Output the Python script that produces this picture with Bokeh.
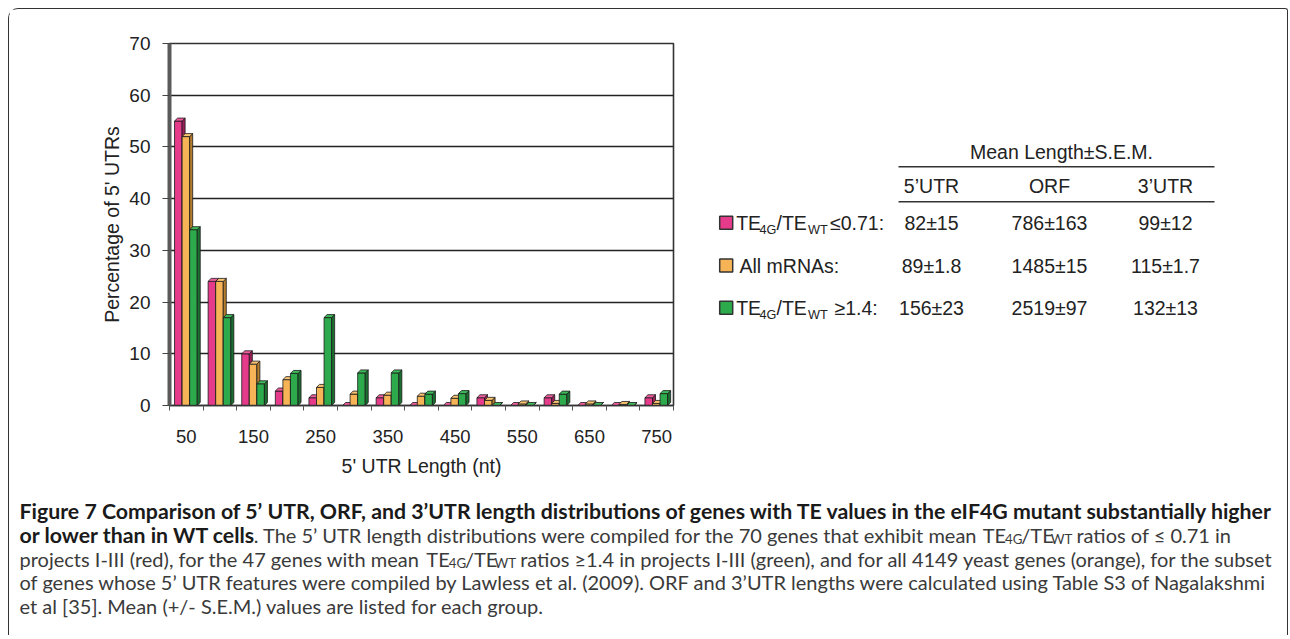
from bokeh.plotting import figure
from bokeh.layouts import column, row
from bokeh.models import Range1d, FixedTicker
from bokeh.core.properties import value
from bokeh.embed import file_html
from bokeh.resources import INLINE

# ---------------- data ----------------
categories = ["50", "100", "150", "200", "250", "300", "350", "400",
              "450", "500", "550", "600", "650", "700", "750"]
tick_labels = ["50", "150", "250", "350", "450", "550", "650", "750"]
pink_vals = [55, 24, 10, 2.8, 1.5, 0, 1.5, 0, 0, 1.5, 0, 1.5, 0, 0, 1.5]
orange_vals = [52, 24, 8, 5, 3.5, 2.2, 2, 1.8, 1.4, 1.0, 0.3, 0.4, 0.3, 0.2, 0.4]
green_vals = [34, 17, 4.2, 6.2, 17, 6.3, 6.3, 2.2, 2.3, 0, 0, 2.2, 0, 0, 2.3]
y_ticks = [0, 10, 20, 30, 40, 50, 60, 70]

table_title = "Mean Length±S.E.M."
table_cols = ["5’UTR", "ORF", "3’UTR"]
col_5utr = ["82±15", "89±1.8", "156±23"]
col_orf = ["786±163", "1485±15", "2519±97"]
col_3utr = ["99±12", "115±1.7", "132±13"]

FONT = "Liberation Sans"
CAP = "Lato"

PINK, PINK_S, PINK_T = "#E63A8B", "#9C1E58", "#EE5C9E"
ORNG, ORNG_S, ORNG_T = "#F6B457", "#B47C2C", "#F8C270"
GREN, GREN_S, GREN_T = "#2DAA4B", "#1A6E2F", "#3DBA5A"

# page geometry
X0, Y0 = 10, 10            # page position of first child
CONTENT_W = 1278
W_A, H_A = 674, 470
MB_TOP, MB_BOT = 34, 74    # frame of the chart row: page y 44 .. 406

# ---------------- bar chart ----------------
n = len(categories)
pA = figure(width=W_A, height=H_A, x_range=Range1d(0, n), y_range=Range1d(0, 70),
            output_backend="svg", toolbar_location=None,
            min_border_left=160, min_border_top=MB_TOP, min_border_bottom=MB_BOT,
            min_border_right=10, background_fill_color="white",
            border_fill_color="white")
pA.outline_line_color = "#333333"
pA.outline_line_width = 1.6

centers = [i + 0.5 for i in range(n)]
label_pos = [centers[categories.index(t)] for t in tick_labels]
pA.xaxis.ticker = FixedTicker(ticks=label_pos, minor_ticks=list(range(n + 1)))
pA.xaxis.major_label_overrides = {pos: t for pos, t in zip(label_pos, tick_labels)}
pA.xaxis.major_tick_out = 0
pA.xaxis.major_tick_in = 0
pA.xaxis.minor_tick_out = 5
pA.xaxis.minor_tick_in = 0
pA.xaxis.minor_tick_line_color = "#555555"
pA.xaxis.axis_line_color = "#333333"
pA.xaxis.axis_line_width = 1.6
pA.xaxis.major_label_standoff = 19
pA.xaxis.major_label_text_font = FONT
pA.xaxis.major_label_text_font_size = "18.5px"
pA.xaxis.major_label_text_color = "#222222"
pA.xaxis.axis_label = "5' UTR Length (nt)"
pA.xaxis.axis_label_standoff = 9
pA.xaxis.axis_label_text_font = FONT
pA.xaxis.axis_label_text_font_size = "19.5px"
pA.xaxis.axis_label_text_font_style = "normal"
pA.xaxis.axis_label_text_color = "#222222"

pA.yaxis.ticker = FixedTicker(ticks=y_ticks, minor_ticks=[])
pA.yaxis.major_tick_out = 7
pA.yaxis.major_tick_in = 0
pA.yaxis.major_tick_line_color = "#444444"
pA.yaxis.axis_line_color = "#5a5a5a"
pA.yaxis.axis_line_width = 4
pA.yaxis.major_label_standoff = 12
pA.yaxis.major_label_text_font = FONT
pA.yaxis.major_label_text_font_size = "19px"
pA.yaxis.major_label_text_color = "#222222"
pA.yaxis.axis_label = "Percentage of 5' UTRs"
pA.yaxis.axis_label_standoff = 3
pA.yaxis.axis_label_text_font = FONT
pA.yaxis.axis_label_text_font_size = "19.5px"
pA.yaxis.axis_label_text_font_style = "normal"
pA.yaxis.axis_label_text_color = "#222222"

pA.xgrid.grid_line_color = None
pA.ygrid.ticker = FixedTicker(ticks=y_ticks)
pA.ygrid.grid_line_color = "#222222"
pA.ygrid.grid_line_width = 1.3

BW, OFF, DX, DY = 0.225, 0.15, 0.09, 0.58
series = [(pink_vals, PINK, PINK_S, PINK_T),
          (orange_vals, ORNG, ORNG_S, ORNG_T),
          (green_vals, GREN, GREN_S, GREN_T)]
for s, (vals, fc, sc, tc) in enumerate(series):
    lefts = [i + OFF + s * BW for i in range(n)]
    rights = [l + BW for l in lefts]
    pA.quad(left=lefts, right=rights, bottom=0, top=vals, fill_color=fc,
            line_color="#1a1a1a", line_width=0.8)
    pA.patches(xs=[[r, r + DX, r + DX, r] for r in rights],
               ys=[[0, DY, v + DY, v] for v in vals],
               fill_color=sc, line_color="#1a1a1a", line_width=0.8)
    pA.patches(xs=[[l, l + DX, r + DX, r] for l, r in zip(lefts, rights)],
               ys=[[v, v + DY, v + DY, v] for v in vals],
               fill_color=tc, line_color="#1a1a1a", line_width=0.8)


# ---------------- helpers: canvases in page pixel coordinates ----------------
def canvas(w, h, x_left, y_top, mb_top=0, mb_bot=0):
    f = figure(width=w, height=h,
               x_range=Range1d(x_left, x_left + w),
               y_range=Range1d(y_top + h - mb_bot, y_top + mb_top),
               output_backend="svg", toolbar_location=None,
               min_border_left=0, min_border_right=0,
               min_border_top=mb_top, min_border_bottom=mb_bot,
               x_axis_type=None, y_axis_type=None, outline_line_color=None,
               background_fill_color="white", border_fill_color="white")
    f.grid.visible = False
    return f


def put(f, xs, ys, texts, size, style="normal", align="left",
        color="#222222", font=FONT):
    f.text(x=xs, y=ys, text=texts,
           text_font=value(font), text_font_size=size, text_font_style=style,
           text_align=align, text_baseline="middle", text_color=color)


# ---------------- table ----------------
W_B = CONTENT_W - W_A
pB = canvas(W_B, H_A, X0 + W_A, Y0, MB_TOP, MB_BOT)
TS = "19.5px"
SS = "12.7px"
put(pB, [1062], [152.7], [table_title], TS, align="center")
pB.segment(x0=[899, 899], y0=[167.3, 202.3], x1=[1215, 1215], y1=[167.3, 202.3],
           line_color="#333333", line_width=1.6)
col_x = [932, 1050, 1166]
put(pB, col_x, [186.7] * 3, table_cols, TS, align="center")
row_y = [223.3, 266, 308.3]
for cx, vals in zip(col_x, [col_5utr, col_orf, col_3utr]):
    put(pB, [cx] * 3, row_y, vals, TS, align="center")
# legend keys
pB.rect(x=[726.7] * 3, y=row_y, width=13, height=13,
        fill_color=[PINK, ORNG, GREN], line_color="#333333", line_width=1.5)
# row labels with subscripts
for ry, tail, tx in [(row_y[0], "≤0.71:", 830.5), (row_y[2], "≥1.4:", 835)]:
    put(pB, [736.7, 777], [ry, ry], ["TE", "/TE"], TS)
    put(pB, [760, 808.5], [ry + 7, ry + 7], ["4G", "WT"], SS)
    put(pB, [tx], [ry], [tail], TS)
put(pB, [740], [row_y[1]], ["All mRNAs:"], TS)

# ---------------- caption ----------------
H_C = 156
pC = canvas(CONTENT_W, H_C, X0, Y0 + H_A)
BSZ, RSZ, SSZ = 21.3, 20.0, 13.3
BC = "#1a1a1a"
RC = "#3a3a3a"
L = [511, 535, 559, 582.5, 606]
SP = 0.193 * RSZ + 1


def seg(x, y, text, size, style="normal", dy=0.0, color=RC):
    put(pC, [x], [y + dy], [text], "%.1fpx" % size, style=style,
        color=color, font=CAP)


def te_group(x, y):
    # "TE" sub "4G" "/TE" sub "WT"; returns x after the group
    seg(x, y, "TE", RSZ)
    x += 1.12 * RSZ
    seg(x, y, "4G", SSZ, dy=4.5)
    x += 1.22 * SSZ
    seg(x, y, "/TE", RSZ)
    x += 1.47 * RSZ
    seg(x, y, "WT", SSZ, dy=4.5)
    x += 1.57 * SSZ
    return x


seg(20, L[0], "Figure 7 Comparison of 5’ UTR, ORF, and 3’UTR length distributions of genes with TE values in the eIF4G mutant substantially higher",
    BSZ, style="bold", color=BC)
# line 2
seg(20, L[1], "or lower than in WT cells", BSZ, style="bold", color=BC)
x = 20 + 11.0 * BSZ
seg(x, L[1], ". The 5’ UTR length distributions were compiled for the 70 genes that exhibit mean", RSZ)
x += 36.2 * RSZ + SP
x = te_group(x, L[1]) + SP
seg(x, L[1], "ratios of ≤ 0.71 in", RSZ)
# line 3
seg(20, L[2], "projects I-III (red), for the 47 genes with mean", RSZ)
x = 20 + 20.1 * RSZ + SP
x = te_group(x, L[2]) + SP
seg(x, L[2], "ratios ≥1.4 in projects I-III (green), and for all 4149 yeast genes (orange), for the subset", RSZ)
# lines 4, 5
seg(20, L[3], "of genes whose 5’ UTR features were compiled by Lawless et al. (2009). ORF and 3’UTR lengths were calculated using Table S3 of Nagalakshmi", RSZ)
seg(20, L[4], "et al [35]. Mean (+/- S.E.M.) values are listed for each group.", RSZ)

root = column(row(pA, pB), pC,
              styles={"margin-left": "8px",
                      "margin-top": "8px",
                      "border-top": "1.6px solid #333333",
                      "border-left": "1.6px solid #333333",
                      "border-right": "1.6px solid #333333",
                      "border-top-left-radius": "10px",
                      "border-top-right-radius": "3px"})

open("out.html", "w").write(file_html(root, INLINE))
